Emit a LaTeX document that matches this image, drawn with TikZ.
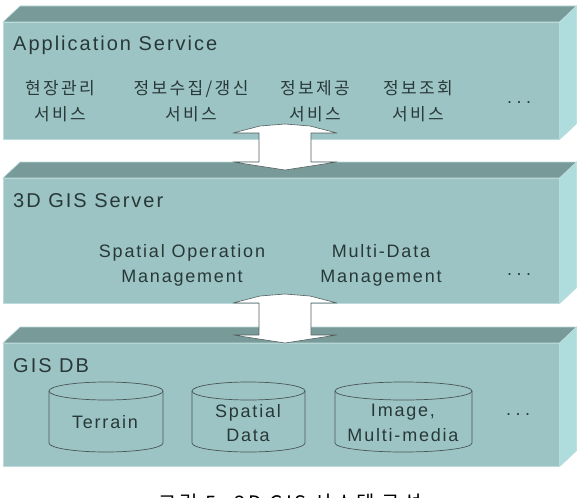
\documentclass[tikz,border=0pt]{standalone}
\usepackage{fontspec}
\setmainfont{Liberation Sans}[LetterSpace=10]
\newfontfamily\krfont{Noto Sans CJK KR}[LetterSpace=14]
\usepackage{tikz}
\usetikzlibrary{positioning, calc}
\definecolor{slabfront}{RGB}{157,196,196}
\definecolor{slabtop}{RGB}{120,155,153}
\definecolor{slabside}{RGB}{175,221,221}
\definecolor{slabedge}{RGB}{188,220,220}
\definecolor{inktext}{RGB}{40,56,56}

\tikzset{
  slab/.style={rectangle, fill=slabfront, draw=slabedge, line width=0.6pt,
               anchor=north west, inner sep=0pt, minimum width=556pt},
  layername/.style={anchor=base west, inner sep=0pt, text=inktext,
               font=\fontsize{20}{24}\selectfont},
  krlabel/.style={align=center, inner sep=0pt, text=inktext,
               font=\krfont\fontsize{17}{26}\selectfont},
  enlabel/.style={align=center, inner sep=0pt, text=inktext,
               font=\fontsize{18}{24.5}\selectfont},
  moredots/.style={inner sep=0pt, text=inktext, font=\fontsize{18}{20}\selectfont},
  dbcyl/.style={draw=inktext!85, line width=0.7pt},
  linkarrow/.style={draw=inktext!80, fill=white, line width=0.6pt, line join=round}
}

\begin{document}
\begin{tikzpicture}[x=1pt, y=-1pt]
  \useasboundingbox[fill=white] (0,0) rectangle (577,497);

  % the three layers
  \node[slab, minimum height=117pt] (app) at (3,22) {};
  \node[slab, minimum height=125pt] (srv) at (3,178) {};
  \node[slab, minimum height=123pt] (db)  at (3,343) {};
  \foreach \slabname in {app, srv, db} {
    \draw[fill=slabtop, draw=slabedge, line width=0.6pt]
      (\slabname.north west) -- ++(17,-16) -- ($(\slabname.north east)+(17,-16)$)
      -- (\slabname.north east) -- cycle;
    \draw[fill=slabside, draw=slabedge, line width=0.6pt]
      (\slabname.north east) -- ++(17,-16) -- ($(\slabname.south east)+(17,-16)$)
      -- (\slabname.south east) -- cycle;
  }

  % application service
  \node[layername] (appname) at (13,51) {Application Service};
  \node[krlabel] (site)    at (60,101)  {현장관리\\서비스};
  \node[krlabel] (collect) at (191,101) {정보수집/갱신\\서비스};
  \node[krlabel] (provide) at (315,101) {정보제공\\서비스};
  \node[krlabel] (query)   at (418,101) {정보조회\\서비스};
  \node[moredots] (appdots) at (519,103) {.\hspace{4.5pt}.\hspace{4.5pt}.};

  % 3D GIS server
  \node[layername] (srvname) at (13,207) {3D GIS Server};
  \node[enlabel] (spatialop) at (182,265.5) {Spatial Operation\\Management};
  \node[enlabel] (multidata) at (381,265.5) {Multi-Data\\Management};
  \node[moredots] (srvdots) at (519,275) {.\hspace{4.5pt}.\hspace{4.5pt}.};

  % GIS DB
  \node[layername] (dbname) at (13,372) {GIS DB};
  \foreach \lx/\rx in {49/163, 192/305, 335/472} {
    \draw[dbcyl] (\lx,391) -- (\lx,443)
      arc[start angle=180, end angle=360, x radius={(\rx-\lx)/2*1pt}, y radius=9pt]
      -- (\rx,391)
      arc[start angle=0, end angle=180, x radius={(\rx-\lx)/2*1pt}, y radius=9pt];
    \draw[dbcyl] (\lx,391)
      arc[start angle=180, end angle=360, x radius={(\rx-\lx)/2*1pt}, y radius=9pt];
  }
  \node[enlabel, anchor=base] (terrain) at (105,428.5) {Terrain};
  \node[enlabel] (spdata)  at (248,423) {Spatial\\Data};
  \node[enlabel] (imgdata) at (403,423) {Image,\\Multi-media};
  \node[moredots] (dbdots) at (518,415) {.\hspace{4.5pt}.\hspace{4.5pt}.};

  % double arrows between the layers
  \foreach \t/\b in {124/170, 294/343} {
    \draw[linkarrow] (285,\t) -- (310,\t+2) -- (337,\t+9) -- (311,\t+9)
      -- (311,\b-8) -- (337,\b-8) -- (285,\b) -- (233,\b-8) -- (259,\b-8)
      -- (259,\t+9) -- (233,\t+9) -- (260,\t+2) -- cycle;
  }

  % caption, cut by the lower edge as in the scan
  \node[anchor=north, inner sep=0pt, text=black,
        font=\krfont\fontsize{20}{24}\selectfont] (caption) at (290,494)
        {그림 5. 3D GIS 시스템 구성};
\end{tikzpicture}
\end{document}
